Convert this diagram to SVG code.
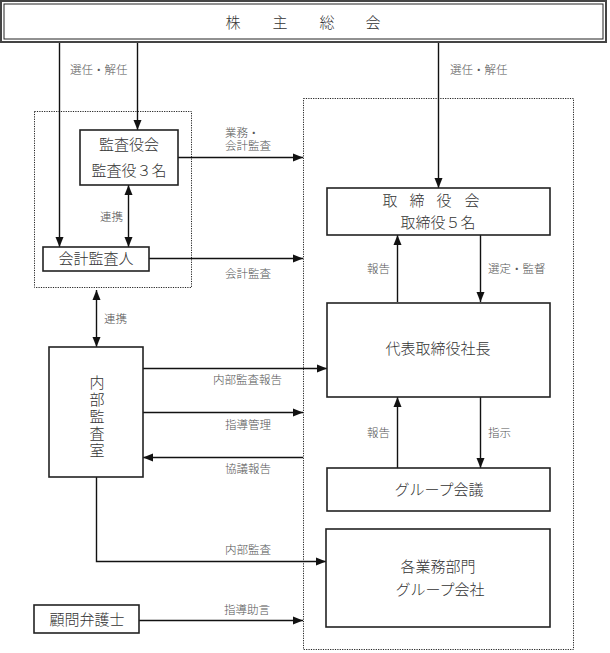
<svg xmlns="http://www.w3.org/2000/svg" width="610" height="653" viewBox="0 0 610 653">
<defs>
<marker id="ah" markerUnits="userSpaceOnUse" markerWidth="10" markerHeight="10" viewBox="0 0 10 10" refX="10" refY="5" orient="auto-start-reverse">
<path d="M0,1 L10,5 L0,9 Z" fill="#111"/>
</marker>
</defs>
<style>
.box{fill:#fff;stroke:#222;stroke-width:1.6}
.dot{fill:none;stroke:#222;stroke-width:1;stroke-dasharray:1.2 1.2}
.ln{fill:none;stroke:#111;stroke-width:1.4}
.arr{fill:none;stroke:#111;stroke-width:1.4;marker-end:url(#ah)}
.dbl{fill:none;stroke:#111;stroke-width:1.4;marker-end:url(#ah);marker-start:url(#ah)}
.nt{font-family:"Liberation Serif","Noto Sans CJK JP",serif;font-size:15px;font-weight:300;fill:#333;text-anchor:middle;dominant-baseline:central}
.lb{font-family:"Liberation Serif","Noto Sans CJK JP",serif;font-size:11.5px;font-weight:300;fill:#555;dominant-baseline:central}
</style>
<rect class="dot" x="34.5" y="111.5" width="157" height="176"/>
<rect class="dot" x="303.5" y="98.5" width="270" height="551"/>
<g id="connectors">
<line class="arr" x1="59.5" y1="42" x2="59.5" y2="247"/>
<line class="arr" x1="137.5" y1="42" x2="137.5" y2="130"/>
<line class="arr" x1="438.5" y1="42" x2="438.5" y2="188"/>
<line class="arr" x1="178" y1="157.5" x2="303" y2="157.5"/>
<line class="arr" x1="149" y1="258.5" x2="303" y2="258.5"/>
<line class="dbl" x1="128.5" y1="185" x2="128.5" y2="247"/>
<line class="dbl" x1="96.5" y1="290" x2="96.5" y2="347"/>
<line class="arr" x1="397.5" y1="302" x2="397.5" y2="235"/>
<line class="arr" x1="480.5" y1="235" x2="480.5" y2="302"/>
<line class="arr" x1="143" y1="368.5" x2="327" y2="368.5"/>
<line class="arr" x1="143" y1="412.5" x2="303" y2="412.5"/>
<line class="arr" x1="303" y1="457.5" x2="143" y2="457.5"/>
<line class="arr" x1="397.5" y1="468" x2="397.5" y2="397"/>
<line class="arr" x1="480.5" y1="397" x2="480.5" y2="468"/>
<polyline class="arr" points="96.5,477 96.5,561.5 326,561.5"/>
<line class="arr" x1="139" y1="620.5" x2="303" y2="620.5"/>
<text class="lb" x="70" y="70">選任・解任</text>
<text class="lb" x="450" y="70">選任・解任</text>
<text class="lb" x="225" y="133">業務・</text>
<text class="lb" x="225" y="146">会計監査</text>
<text class="lb" x="100" y="217">連携</text>
<text class="lb" x="225" y="274">会計監査</text>
<text class="lb" x="104" y="319">連携</text>
<text class="lb" x="367" y="269">報告</text>
<text class="lb" x="488" y="269">選定・監督</text>
<text class="lb" x="213" y="380">内部監査報告</text>
<text class="lb" x="225" y="425">指導管理</text>
<text class="lb" x="225" y="469">協議報告</text>
<text class="lb" x="367" y="433">報告</text>
<text class="lb" x="488" y="433">指示</text>
<text class="lb" x="225" y="550">内部監査</text>
<text class="lb" x="224" y="610">指導助言</text>
</g>
<g id="shareholders">
<rect x="1" y="1" width="605" height="41" fill="#fff" stroke="#444" stroke-width="2"/>
<rect x="4" y="4" width="599" height="35" fill="none" stroke="#222" stroke-width="1"/>
<text class="nt" x="233" y="23">株</text>
<text class="nt" x="280" y="23">主</text>
<text class="nt" x="327" y="23">総</text>
<text class="nt" x="373" y="23">会</text>
</g>
<g id="kansayakukai">
<rect class="box" x="80" y="130" width="98" height="55"/>
<text class="nt" x="129" y="145">監査役会</text>
<text class="nt" x="129" y="171">監査役３名</text>
</g>
<g id="kaikeikansanin">
<rect class="box" x="43" y="247" width="106" height="24"/>
<text class="nt" x="96" y="259">会計監査人</text>
</g>
<g id="torishimariyakukai">
<rect class="box" x="327" y="188" width="223" height="47"/>
<text class="nt" x="390" y="201">取</text>
<text class="nt" x="417" y="201">締</text>
<text class="nt" x="444" y="201">役</text>
<text class="nt" x="472" y="201">会</text>
<text class="nt" x="438" y="223">取締役５名</text>
</g>
<g id="president">
<rect class="box" x="327" y="303" width="223" height="94"/>
<text class="nt" x="438" y="349">代表取締役社長</text>
</g>
<g id="naibukansashitsu">
<rect class="box" x="49" y="347" width="94" height="130"/>
<text class="nt" x="97" y="383">内</text>
<text class="nt" x="97" y="400">部</text>
<text class="nt" x="97" y="417">監</text>
<text class="nt" x="97" y="434">査</text>
<text class="nt" x="97" y="451">室</text>
</g>
<g id="groupkaigi">
<rect class="box" x="327" y="468" width="223" height="43"/>
<text class="nt" x="439" y="490">グループ会議</text>
</g>
<g id="gyomubumon">
<rect class="box" x="326" y="529" width="224" height="98"/>
<text class="nt" x="438" y="567">各業務部門</text>
<text class="nt" x="440" y="590">グループ会社</text>
</g>
<g id="komonbengoshi">
<rect class="box" x="34" y="605" width="105" height="28"/>
<text class="nt" x="87" y="620">顧問弁護士</text>
</g>
</svg>
